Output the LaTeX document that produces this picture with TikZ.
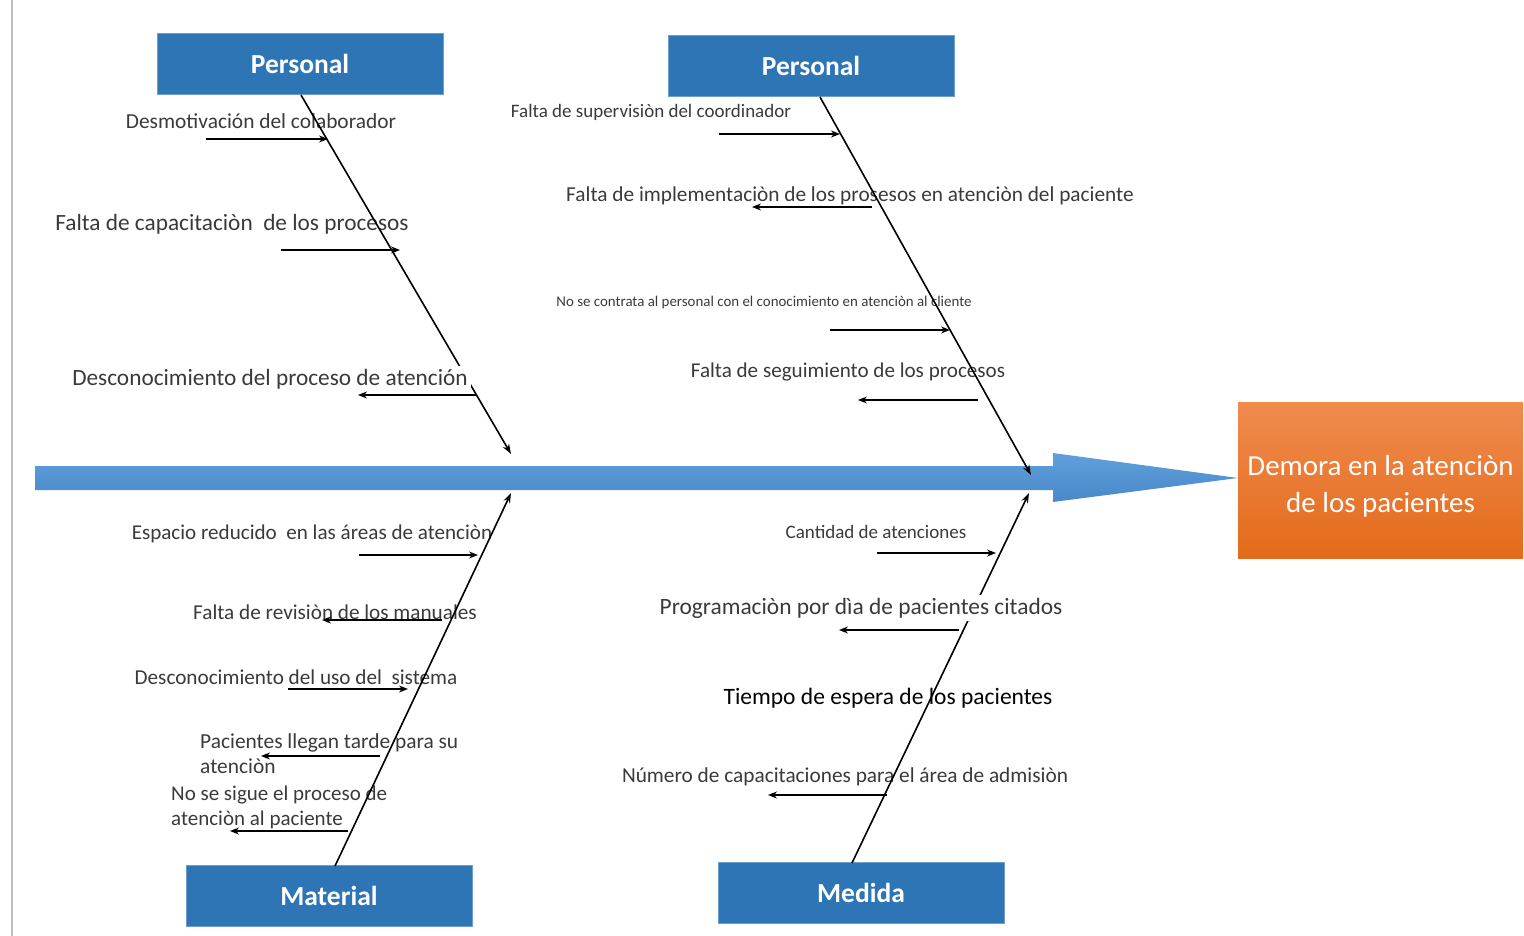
\documentclass[tikz,border=0pt]{standalone}
\usepackage{fontspec}
\setmainfont{Carlito}
\usetikzlibrary{arrows.meta}
\definecolor{catblue}{HTML}{2E75B6}
\definecolor{spinetop}{HTML}{5FA0DC}
\definecolor{spinebot}{HTML}{4A88C8}
\definecolor{txt}{HTML}{3A3A3A}
\definecolor{orgtop}{HTML}{F08B4E}
\definecolor{orgbot}{HTML}{E36A1A}
\newcommand{\fs}[1]{\fontsize{#1}{#1}\selectfont}
\begin{document}
\begin{tikzpicture}[x=1pt,y=-1pt,
  cat/.style={fill=catblue, draw=catblue!70!white, line width=0.8pt, minimum width=286pt, minimum height=61pt, text=white, font=\bfseries\fs{27.5}, inner sep=0pt},
  bone/.style={line width=1.6pt, -{Stealth[length=10pt,width=7pt]}},
  sub/.style={line width=1.4pt, -{Stealth[length=9pt,width=7pt]}},
  lbl/.style={text=txt, inner sep=1pt},
  lblw/.style={text=txt, inner sep=3pt, fill=white},
]
\useasboundingbox (0,0) rectangle (1524,936);
% left page edge
\draw[black!25, line width=2pt] (12,0) -- (12,936);

% spine
\shade[top color=spinetop, bottom color=spinebot]
  (35,466) -- (1053,466) -- (1053,453) -- (1238,478) -- (1053,502) -- (1053,490) -- (35,490) -- cycle;

% effect
\node[top color=orgtop, bottom color=orgbot, minimum width=285pt, minimum height=156pt, inner sep=0pt,
  text=white, font=\fontsize{29}{37}\selectfont, align=center] (effect) at (1380.5,480)
  {\begin{tabular}{@{}c@{}}\rule{0pt}{40pt}Demora en la atenciòn\\de los pacientes\end{tabular}};

% categories
\node[cat] (P1) at (300,63.5) {Personal};
\node[cat] (P2) at (811,65.5) {Personal};
\node[cat] (Mat) at (329,895.5) {Material};
\node[cat] (Med) at (861,892.5) {Medida};

% plain labels
\node[lbl, font=\fs{21.4}] (t1) at (261,121) {Desmotivación del colaborador};
\node[lbl, font=\fs{23.3}] (t2) at (232,224) {Falta de capacitaciòn~ de los procesos};
\node[lbl, font=\fs{19}] (t4) at (651,112) {Falta de supervisiòn del coordinador};
\node[lbl, font=\fs{21.3}] (t5) at (850,196) {Falta de implementaciòn de los prosesos en atenciòn del paciente};
\node[lbl, font=\fs{14.9}] (t6) at (764,303) {No se contrata al personal con el conocimiento en atenciòn al cliente};
\node[lbl, font=\fs{21.1}] (t7) at (848,372) {Falta de seguimiento de los procesos};
\node[lbl, font=\fs{21.1}] (t8) at (312,534) {Espacio reducido~ en las áreas de atenciòn};
\node[lbl, font=\fs{21.2}] (t9) at (335,612) {Falta de revisiòn de los manuales};
\node[lbl, font=\fs{21.2}] (t10) at (296,677) {Desconocimiento del uso del~ sistema};
\node[lbl, anchor=west, align=left, font=\fontsize{21.4}{25}\selectfont] (t11) at (199,753.5)
  {Pacientes llegan tarde para su\\atenciòn};
\node[lbl, anchor=west, align=left, font=\fontsize{21}{25}\selectfont] (t12) at (170,807.5)
  {No se sigue el proceso de\\ atenciòn al paciente};
\node[lbl, font=\fs{19}] (t13) at (876,532) {Cantidad de atenciones};
\node[lbl, text=black, font=\fs{23.5}] (t15) at (888,698) {Tiempo de espera de los pacientes};
\node[lbl, font=\fs{21.3}] (t16) at (845,777) {Número de capacitaciones para el área de admisiòn};

% bone coordinates
\coordinate (b1s) at (301,95);   \coordinate (b1e) at (511,454);
\coordinate (b2s) at (820,97);   \coordinate (b2e) at (1031,475);
\coordinate (b3s) at (335,866);  \coordinate (b3e) at (511,493);
\coordinate (b4s) at (852,863);  \coordinate (b4e) at (1029,493);

\draw[bone] (b1s) -- (b1e);
\draw[bone] (b2s) -- (b2e);
\draw[bone] (b3s) -- (b3e);
\draw[bone] (b4s) -- (b4e);

% labels with white ground (hide the bone)
\node[lblw, font=\fs{23.3}] (t3) at (270,379) {Desconocimiento del proceso de atención};
\node[lblw, font=\fs{23.4}] (t14) at (861,608) {Programaciòn por dìa de pacientes citados};

% sub-cause arrows
\coordinate (a1a) at (206,139); \coordinate (a1b) at (328,139);
\coordinate (a2a) at (281,250); \coordinate (a2b) at (400,250);
\coordinate (a3a) at (476,395); \coordinate (a3b) at (358,395);
\coordinate (a4a) at (719,134); \coordinate (a4b) at (840,134);
\coordinate (a5a) at (872,207); \coordinate (a5b) at (752,207);
\coordinate (a6a) at (830,330); \coordinate (a6b) at (950,330);
\coordinate (a7a) at (978,400); \coordinate (a7b) at (858,400);
\coordinate (a8a) at (359,555); \coordinate (a8b) at (478,555);
\coordinate (a9a) at (442,620); \coordinate (a9b) at (322,620);
\coordinate (a10a) at (288,689); \coordinate (a10b) at (408,689);
\coordinate (a11a) at (380,756); \coordinate (a11b) at (261,756);
\coordinate (a12a) at (348,831); \coordinate (a12b) at (230,831);
\coordinate (a13a) at (877,553); \coordinate (a13b) at (996,553);
\coordinate (a14a) at (959,630); \coordinate (a14b) at (839,630);
\coordinate (a16a) at (887,795); \coordinate (a16b) at (768,795);
\foreach \i in {1,...,14,16}{\draw[sub] (a\i a) -- (a\i b);}
\end{tikzpicture}
\end{document}
